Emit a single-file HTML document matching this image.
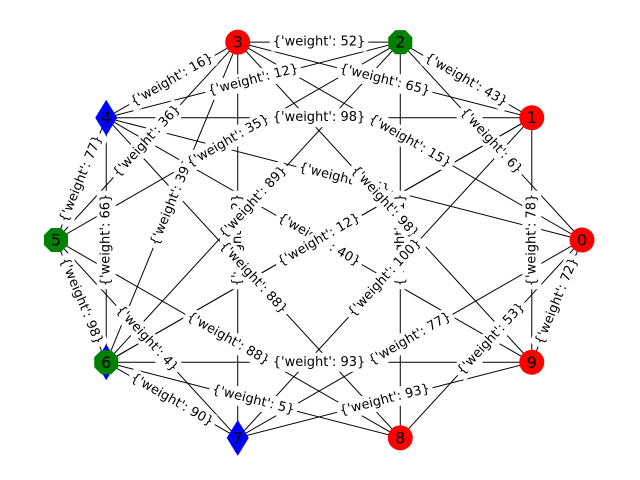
<!DOCTYPE html>
<html><head><meta charset="utf-8"><style>
html,body{margin:0;padding:0;background:#fff;}
svg{display:block;}
text{font-family:"DejaVu Sans","Liberation Sans",sans-serif;}
</style></head><body>
<svg id="g" width="640" height="480" viewBox="0 0 640 480">
<g id="edges"></g>
<g id="labels"></g>
<g id="nodes"></g>
</svg>
<script>
const nodeIds = [0,1,2,3,4,5,6,7,8,9];
const nodeColors = ['red','red','green','red','blue','green','green','blue','red','red'];
const nodeShapes = ['o','o','8','o','d','8','8','d','o','o'];
const edgeSource = [3,2,4,3,2,4,3,2,1,2,4,3,3,3,2,3,4,4,5,6,4,5,5,6,5,6,7,7,7,8,9,1,1,6];
const edgeTarget = [7,8,0,2,1,3,1,4,4,6,5,5,0,6,0,9,9,8,7,9,6,2,8,8,6,7,0,1,9,0,0,9,6,1];
const edgeWeights = [42,61,27,52,43,16,65,12,98,89,77,36,15,39,6,98,40,88,4,93,66,35,88,5,98,90,77,100,93,53,72,78,12,12];

const cx=319, cy=240, rx=263, ry=208;
function px(i){return cx+rx*Math.cos(2*Math.PI*i/10);}
function py(i){return cy-ry*Math.sin(2*Math.PI*i/10);}
const NS='http://www.w3.org/2000/svg';
const eg=document.getElementById('edges'), lg=document.getElementById('labels'), ng=document.getElementById('nodes');

for(let k=0;k<edgeSource.length;k++){
  const a=edgeSource[k], b=edgeTarget[k];
  const l=document.createElementNS(NS,'line');
  l.setAttribute('x1',px(a));l.setAttribute('y1',py(a));l.setAttribute('x2',px(b));l.setAttribute('y2',py(b));
  l.setAttribute('stroke','#000');l.setAttribute('stroke-width','1');
  
  
  eg.appendChild(l);
}
for(let k=0;k<edgeSource.length;k++){
  const a=edgeSource[k], b=edgeTarget[k];
  const mx=(px(a)+px(b))/2, my=(py(a)+py(b))/2;
  let ang=Math.atan2(py(b)-py(a),px(b)-px(a))*180/Math.PI;
  if(ang>90)ang-=180; if(ang<-90)ang+=180;
  if(Math.abs(Math.abs(ang)-90)<0.5)ang=-90;
  const g=document.createElementNS(NS,'g');
  g.setAttribute('transform','translate('+mx+','+my+') rotate('+ang+')');
  
  
  const r=document.createElementNS(NS,'rect');
  r.setAttribute('fill','#fff');
  
  
  const t=document.createElementNS(NS,'text');
  t.setAttribute('text-anchor','middle');t.setAttribute('dominant-baseline','central');
  t.setAttribute('font-size','13');t.setAttribute('fill','#000');
  t.textContent="{'weight': "+edgeWeights[k]+"}";
  
  
  g.appendChild(r);g.appendChild(t);lg.appendChild(g);
  const bb=t.getBBox();
  r.setAttribute('x',bb.x-3);r.setAttribute('y',bb.y-2);r.setAttribute('width',bb.width+6);r.setAttribute('height',bb.height+4);r.setAttribute('rx',4);
}
function poly(x,y,pts){return pts.map(p=>(x+p[0])+','+(y+p[1])).join(' ');}
for(const i of nodeIds){
  const x=px(i), y=py(i);
  const g=document.createElementNS(NS,'g');
  
  
  if(i===6){
    const d=document.createElementNS(NS,'polygon');
    d.setAttribute('points',poly(x,y,[[0,-18],[11,0],[0,18],[-11,0]]));
    d.setAttribute('fill','blue');
    
    
    g.appendChild(d);
  }
  let s;
  if(nodeShapes[i]==='o'){
    s=document.createElementNS(NS,'circle');s.setAttribute('cx',x);s.setAttribute('cy',y);s.setAttribute('r',12.5);
  } else if(nodeShapes[i]==='d'){
    s=document.createElementNS(NS,'polygon');s.setAttribute('points',poly(x,y,[[0,-18],[11,0],[0,18],[-11,0]]));
  } else {
    const pts=[];for(let j=0;j<8;j++){const a=Math.PI/8+j*Math.PI/4;pts.push([13*Math.cos(a),13*Math.sin(a)]);}
    s=document.createElementNS(NS,'polygon');s.setAttribute('points',poly(x,y,pts));
  }
  s.setAttribute('fill',nodeColors[i]);
  
  
  g.appendChild(s);
  const t=document.createElementNS(NS,'text');
  t.setAttribute('x',x);t.setAttribute('y',y);t.setAttribute('text-anchor','middle');t.setAttribute('dominant-baseline','central');
  t.setAttribute('font-size','16');t.setAttribute('fill','#000');t.textContent=String(i);
  
  
  g.appendChild(t);
  ng.appendChild(g);
}
</script>
</body></html>
